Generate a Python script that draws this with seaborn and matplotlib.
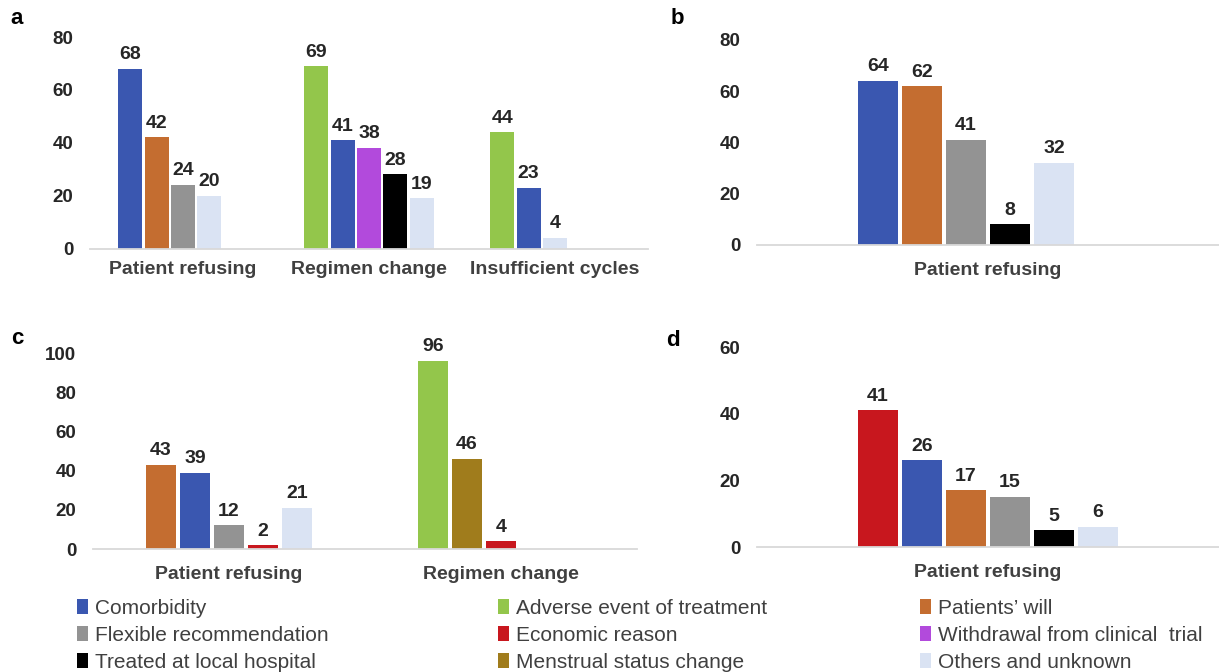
import pandas as pd
import matplotlib.pyplot as plt
import matplotlib.patches as mpatches
import seaborn as sns

# ── Data ──────────────────────────────────────────────────────────────────────
A_CATS = ["Patient refusing", "Regimen change", "Insufficient cycles"]
A_REASONS = [
    ["Comorbidity", "Patients’ will", "Flexible recommendation", "Others and unknown"],
    ["Adverse event of treatment", "Comorbidity", "Withdrawal from clinical  trial",
     "Treated at local hospital", "Others and unknown"],
    ["Adverse event of treatment", "Comorbidity", "Others and unknown"],
]
A_VALUES = [[68, 42, 24, 20], [69, 41, 38, 28, 19], [44, 23, 4]]

B_CATS = ["Patient refusing"]
B_REASONS = [["Comorbidity", "Patients’ will", "Flexible recommendation",
              "Treated at local hospital", "Others and unknown"]]
B_VALUES = [[64, 62, 41, 8, 32]]

C_CATS = ["Patient refusing", "Regimen change"]
C_REASONS = [
    ["Patients’ will", "Comorbidity", "Flexible recommendation", "Economic reason",
     "Others and unknown"],
    ["Adverse event of treatment", "Menstrual status change", "Economic reason"],
]
C_VALUES = [[43, 39, 12, 2, 21], [96, 46, 4]]

D_CATS = ["Patient refusing"]
D_REASONS = [["Economic reason", "Comorbidity", "Patients’ will",
              "Flexible recommendation", "Treated at local hospital", "Others and unknown"]]
D_VALUES = [[41, 26, 17, 15, 5, 6]]

COLORS = {
    "Comorbidity":                     "#3A57B0",
    "Adverse event of treatment":      "#93C64B",
    "Patients’ will":                  "#C46D30",
    "Flexible recommendation":         "#939393",
    "Economic reason":                 "#C8171E",
    "Withdrawal from clinical  trial": "#B24ADC",
    "Treated at local hospital":       "#000000",
    "Menstrual status change":         "#A07C1C",
    "Others and unknown":              "#DAE3F3",
}
LEGEND_COLS = [
    ["Comorbidity", "Flexible recommendation", "Treated at local hospital"],
    ["Adverse event of treatment", "Economic reason", "Menstrual status change"],
    ["Patients’ will", "Withdrawal from clinical  trial", "Others and unknown"],
]

W, H = 1219, 672
TXT = "#262626"
LBL = "#404040"


def to_frame(cats, reasons, values, n_slots):
    rows = []
    for cat, rs, vs in zip(cats, reasons, values):
        for s in range(n_slots):
            r = rs[s] if s < len(rs) else None
            v = vs[s] if s < len(vs) else 0
            rows.append({"category": cat, "slot": f"s{s}", "reason": r, "value": v})
    return pd.DataFrame(rows)


def panel(fig, box, letter, letter_xy, cats, reasons, values, n_slots,
          width, ymax, step, xpad):
    l, t, r, b = box
    ax = fig.add_axes([l / W, 1 - b / H, (r - l) / W, (b - t) / H])
    df = to_frame(cats, reasons, values, n_slots)
    sns.barplot(data=df, x="category", y="value", hue="slot", order=cats,
                hue_order=[f"s{s}" for s in range(n_slots)], width=width, gap=0.09,
                errorbar=None, legend=False, ax=ax)

    for cont in ax.containers:
        labels = []
        for p in cont.patches:
            ci = int(round(p.get_x() + p.get_width() / 2))
            s = int(round((p.get_x() + p.get_width() / 2 - ci + width / 2)
                          / (width / n_slots) - 0.5))
            reason = df[(df.category == cats[ci]) & (df.slot == f"s{s}")].reason.iloc[0]
            if reason is None:
                p.set_visible(False)
                labels.append("")
            else:
                p.set_facecolor(COLORS[reason])
                p.set_edgecolor("none")
                labels.append(f"{p.get_height():.0f}")
        ax.bar_label(cont, labels=labels, padding=4, fontsize=14,
                     fontweight="bold", color=TXT)

    ax.set_ylim(0, ymax)
    ax.set_yticks(range(0, ymax + 1, step))
    ax.set_xlim(-0.5, len(cats) - 0.5)
    ax.set_xlabel("")
    ax.set_ylabel("")
    sns.despine(ax=ax, left=True)
    ax.spines["bottom"].set_color("#D9D9D9")
    ax.spines["bottom"].set_linewidth(1.3)
    ax.tick_params(axis="y", length=0, pad=12, labelsize=13.5, labelcolor=TXT)
    ax.tick_params(axis="x", length=0, pad=xpad, labelsize=14, labelcolor=LBL)
    for lab in ax.get_xticklabels() + ax.get_yticklabels():
        lab.set_fontweight("bold")

    fig.text(letter_xy[0] / W, 1 - letter_xy[1] / H, letter, fontsize=16,
             fontweight="bold", color="black", ha="center", va="center")
    return ax


sns.set_theme(style="white")
plt.rcParams["font.family"] = ["Liberation Sans", "DejaVu Sans"]

fig = plt.figure(figsize=(W / 100, H / 100), dpi=100)

panel(fig, (90, 37, 648, 248.5), "a", (17, 19), A_CATS, A_REASONS, A_VALUES, 5,
      0.71, 80, 20, 9)
panel(fig, (757, 40, 1219, 245), "b", (677, 19), B_CATS, B_REASONS, B_VALUES, 6,
      0.571, 80, 20, 12)
panel(fig, (93, 353, 637, 549), "c", (17, 338), C_CATS, C_REASONS, C_VALUES, 5,
      0.625, 100, 20, 12)
panel(fig, (757, 347, 1219, 547), "d", (673, 340), D_CATS, D_REASONS, D_VALUES, 6,
      0.571, 60, 20, 12)

# ── Legend: three equal-width columns ─────────────────────────────────────────
for col, x0 in zip(LEGEND_COLS, [77, 498, 920]):
    handles = [mpatches.Patch(facecolor=COLORS[n], edgecolor="none", label=n) for n in col]
    fig.legend(handles=handles, loc="upper left", bbox_to_anchor=(x0 / W, 1 - 599 / H),
               frameon=False, fontsize=15, labelcolor=LBL, handlelength=0.55,
               handleheight=0.75, handletextpad=0.3, labelspacing=0.38,
               borderpad=0, borderaxespad=0)

fig.savefig("out.png", dpi=100)
